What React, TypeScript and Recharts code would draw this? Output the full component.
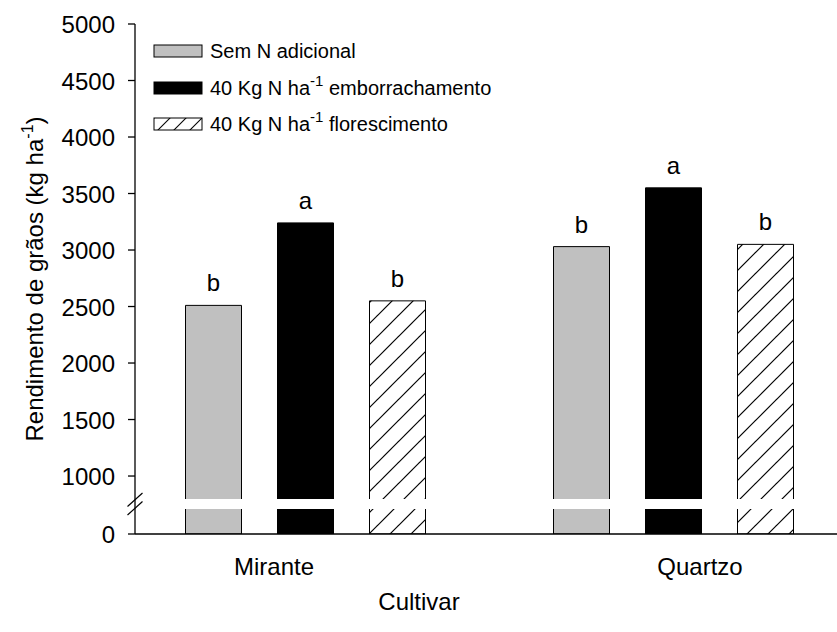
import React from 'react';
import { BarChart, Bar, XAxis, YAxis, LabelList } from 'recharts';

// Cultivars and grain yield (kg ha-1) per nitrogen treatment
const cultivars = ['Mirante', 'Quartzo'];
const semNAdicional = [2510, 3030];
const nEmborrachamento = [3240, 3550];
const nFlorescimento = [2550, 3050];

// Mean-comparison letters shown above each bar
const letrasSemN = ['b', 'b'];
const letrasEmborrachamento = ['a', 'a'];
const letrasFlorescimento = ['b', 'b'];

// Upper segment tick values of the broken axis
const yTicks = [1000, 1500, 2000, 2500, 3000, 3500, 4000, 4500, 5000];
const Y_MAX = 5000;
// The segment below 1000 is compressed: the value 0 is shown at AXIS_BASE
const AXIS_BASE = 487;
const BREAK_LO = 717;
const BREAK_HI = 788;
const BREAK_MID = 752;

const FONT = 'Arial, "Liberation Sans", Helvetica, sans-serif';

const rows = cultivars.map((c, i) => ({
  cultivar: c,
  semN: semNAdicional[i],
  emb: nEmborrachamento[i],
  flor: nFlorescimento[i],
  lSemN: letrasSemN[i],
  lEmb: letrasEmborrachamento[i],
  lFlor: letrasFlorescimento[i],
  gapSemN: [BREAK_LO, BREAK_HI],
  gapEmb: [BREAK_LO, BREAK_HI],
  gapFlor: [BREAK_LO, BREAK_HI],
}));

const series = [
  { key: 'semN', gap: 'gapSemN', letters: 'lSemN', fill: '#c0c0c0', label: 'Sem N adicional', suffix: '' },
  { key: 'emb', gap: 'gapEmb', letters: 'lEmb', fill: '#000000', label: '40 Kg N ha', suffix: ' emborrachamento' },
  { key: 'flor', gap: 'gapFlor', letters: 'lFlor', fill: 'url(#hatch)', label: '40 Kg N ha', suffix: ' florescimento' },
];

function YTick(props: any) {
  const { x, y, payload } = props;
  const v = payload.value;
  if (v === BREAK_MID) {
    return (
      <g stroke="#000" strokeWidth={1.2}>
        <line x1={x - 7.5} y1={y + 2.5} x2={x + 7.5} y2={y - 11} />
        <line x1={x - 7.5} y1={y + 11} x2={x + 7.5} y2={y - 2.5} />
      </g>
    );
  }
  return (
    <g>
      <line x1={x - 7} y1={y} x2={x} y2={y} stroke="#000" strokeWidth={1.3} />
      <text x={x - 20} y={y} dy="0.38em" textAnchor="end" fontSize={24} fontFamily={FONT} fill="#000">
        {v === AXIS_BASE ? '0' : String(v)}
      </text>
    </g>
  );
}

function YLabel(props: any) {
  const vb = props.viewBox || { x: 0, y: 24, width: 135, height: 510 };
  const cx = 43;
  const cy = vb.y + vb.height / 2;
  return (
    <text
      x={cx}
      y={cy}
      transform={`rotate(-90, ${cx}, ${cy})`}
      textAnchor="middle"
      fontSize={24}
      fontFamily={FONT}
      fill="#000"
    >
      Rendimento de grãos (kg ha
      <tspan fontSize={16} dy={-10}>-1</tspan>
      <tspan dy={10}>)</tspan>
    </text>
  );
}

function XLabel() {
  return (
    <text x={419} y={610} textAnchor="middle" fontSize={24} fontFamily={FONT} fill="#000">
      Cultivar
    </text>
  );
}

function LegendBox() {
  const boxTops = [45, 82, 118];
  const baselines = [58, 95, 131];
  return (
    <svg
      width={837}
      height={150}
      style={{ position: 'absolute', left: 0, top: 0, pointerEvents: 'none' }}
    >
      <defs>
        <pattern id="hatchLegend" patternUnits="userSpaceOnUse" width={16} height={16}>
          <line x1={0} y1={16} x2={16} y2={0} stroke="#000" strokeWidth={1.1} />
          <line x1={-4} y1={4} x2={4} y2={-4} stroke="#000" strokeWidth={1.1} />
          <line x1={12} y1={20} x2={20} y2={12} stroke="#000" strokeWidth={1.1} />
        </pattern>
      </defs>
      {series.map((s, i) => (
        <g key={s.key}>
          <rect
            x={154}
            y={boxTops[i]}
            width={48}
            height={12}
            fill={s.key === 'flor' ? 'url(#hatchLegend)' : s.fill}
            stroke="#000"
            strokeWidth={1}
          />
          <text x={210} y={baselines[i]} fontSize={20} fontFamily={FONT} fill="#000">
            {s.label}
            {s.suffix ? (
              <>
                <tspan fontSize={15} dy={-9}>-1</tspan>
                <tspan dy={9}>{s.suffix}</tspan>
              </>
            ) : null}
          </text>
        </g>
      ))}
    </svg>
  );
}

export default function App() {
  return (
    <div style={{ position: 'absolute', left: 0, top: 0, width: 837, height: 632, background: '#fff' }}>
      <BarChart
        width={837}
        height={632}
        data={rows}
        margin={{ top: 24, right: 0, bottom: 0, left: 0 }}
        barGap={36}
        barSize={56}
      >
        <defs>
          <pattern id="hatch" patternUnits="userSpaceOnUse" width={21} height={21}>
            <line x1={0} y1={21} x2={21} y2={0} stroke="#000" strokeWidth={1.2} />
            <line x1={-5} y1={5} x2={5} y2={-5} stroke="#000" strokeWidth={1.2} />
            <line x1={16} y1={26} x2={26} y2={16} stroke="#000" strokeWidth={1.2} />
          </pattern>
        </defs>
        <XAxis
          xAxisId="frame"
          orientation="top"
          dataKey="cultivar"
          height={0}
          tick={false}
          tickLine={false}
          axisLine={{ stroke: '#000', strokeWidth: 1.3 }}
        />
        <XAxis
          xAxisId="labels"
          dataKey="cultivar"
          padding={{ left: -74, right: -76 }}
          height={98}
          interval={0}
          tickLine={false}
          tickSize={0}
          tickMargin={24}
          axisLine={{ stroke: '#000', strokeWidth: 1.3 }}
          tick={{ fontSize: 24, fill: '#000', fontFamily: FONT }}
          label={<XLabel />}
        />
        <XAxis xAxisId="bars" dataKey="cultivar" hide height={0} padding={{ left: -13.5, right: -20.5 }} />
        <XAxis xAxisId="gaps" dataKey="cultivar" hide height={0} padding={{ left: -13.5, right: -20.5 }} />
        <YAxis
          yAxisId="y"
          type="number"
          width={135}
          domain={[AXIS_BASE, Y_MAX]}
          ticks={[AXIS_BASE, BREAK_MID, ...yTicks]}
          interval={0}
          allowDataOverflow
          tickLine={false}
          tickSize={0}
          tickMargin={0}
          axisLine={{ stroke: '#000', strokeWidth: 1.3 }}
          tick={<YTick />}
          label={<YLabel />}
        />
        {series.map((s) => (
          <Bar
            key={s.key}
            xAxisId="bars"
            yAxisId="y"
            dataKey={s.key}
            fill={s.fill}
            stroke="#000"
            strokeWidth={1}
            isAnimationActive={false}
          >
            <LabelList
              dataKey={s.letters}
              position="top"
              offset={14}
              fill="#000"
              fontSize={24}
              fontFamily={FONT}
            />
          </Bar>
        ))}
        {series.map((s) => (
          <Bar
            key={s.gap}
            xAxisId="gaps"
            yAxisId="y"
            dataKey={s.gap}
            fill="#fff"
            stroke="#fff"
            strokeWidth={2}
            isAnimationActive={false}
          />
        ))}
      </BarChart>
      <LegendBox />
    </div>
  );
}
